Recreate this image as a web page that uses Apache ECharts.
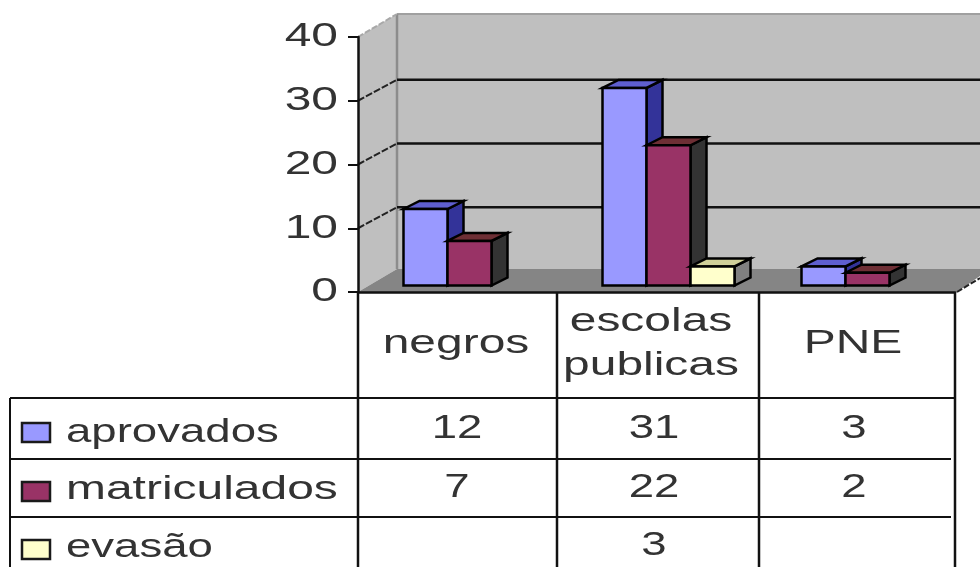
<!DOCTYPE html>
<html><head><meta charset="utf-8">
<style>html,body{margin:0;padding:0;background:#fff}#chart{width:980px;height:567px;filter:blur(0.6px)}</style>
<script src="https://cdn.jsdelivr.net/npm/echarts@6/dist/echarts.min.js"></script>
</head><body><div id="chart"></div>
<script>
const categories = ['negros', 'escolas publicas', 'PNE'];
const categoryLines = [['negros'], ['escolas', 'publicas'], ['PNE']];
const tickValues = [0, 10, 20, 30, 40];
const seriesNames = ['aprovados', 'matriculados', 'evasão'];
const aprovados = [12, 31, 3];
const matriculados = [7, 22, 2];
const evasao = [null, 3, null];
const seriesValues = [aprovados, matriculados, evasao];

const palette = [
  {front: '#9999ff', top: '#5f5fcf', side: '#333399'},
  {front: '#993366', top: '#6e2f35', side: '#333333'},
  {front: '#ffffcc', top: '#cfcf99', side: '#808080'}
];
const DX = 39, DY = 23, GRID_DY = 21; // wall depth
const BDX = 16, BDY = 8, LIFT = 6.5;  // bar depth and floor inset
const SLOT = 44;
const FONT = 'Liberation Sans';
const SX = 1.34, FS = 34, INK = '#333333';
const WIDE = 1.41;
const colX = [358, 557, 759, 955];
const rowY = [292, 398, 459, 517, 567];
const TABLE_LEFT = 10;
const seriesBaseline = [445, 502, 560];
const valueBaseline = [441, 500, 558];
const swatchY = [423, 482, 540];
const colCenter = [457, 654, 854];

function label(text, x, baseline, align, sx) {
  return {type: 'text', x: x, y: baseline - 12, scaleX: sx || SX,
    style: {text: text, fontFamily: FONT, fontSize: FS, fill: INK,
            textAlign: align || 'center', textVerticalAlign: 'middle'}};
}
function line(x1, y1, x2, y2, color, w, dash) {
  return {type: 'line', shape: {x1, y1, x2, y2},
    style: {stroke: color, lineWidth: w, lineDash: dash || null}};
}
function poly(points, fill, stroke, w) {
  return {type: 'polygon', shape: {points},
    style: {fill, stroke: stroke || null, lineWidth: w || 0, lineJoin: 'miter'}};
}

function renderWalls(params, api) {
  if (params.dataIndex !== 0) return;
  const x0 = api.coord([0, 0])[0] - api.size([1, 0])[0] / 2;
  const y = v => api.coord([0, v])[1];
  const W = 980;
  const kids = [];
  kids.push(poly([[x0, y(40)], [x0 + DX, y(40) - DY], [W, y(40) - DY], [W, y(0) - DY], [x0 + DX, y(0) - DY], [x0, y(0)]], '#bfbfbf'));
  kids.push(poly([[x0, y(0)], [x0 + DX, y(0) - DY], [W, y(0) - DY], [W, y(0) - 16], [957, y(0)]], '#858585'));
  kids.push(line(x0 + DX, y(40) - DY, W, y(40) - DY, '#a0a0a0', 2));
  kids.push(line(x0 + DX, y(40) - DY, x0 + DX, y(0) - DY, '#8c8c8c', 2.5));
  kids.push(line(x0, y(40), x0 + DX, y(40) - DY, '#a8a8a8', 2, [6, 2]));
  kids.push(line(957, y(0), W, y(0) - 14, '#222', 2, [6, 2]));
  tickValues.filter(v => v > 0 && v < 40).forEach(v => {
    kids.push(line(x0 + DX, y(v) - GRID_DY, W, y(v) - GRID_DY, '#111', 2.5));
    kids.push(line(x0, y(v), x0 + DX, y(v) - GRID_DY, '#222', 2, [7, 2]));
  });
  return {type: 'group', children: kids};
}

function renderBar(si) {
  return function (params, api) {
    const cat = api.value(0), v = api.value(1);
    const c = palette[si];
    const l = api.coord([cat, 0])[0] + (si - 1.5) * SLOT + 12;
    const r = l + SLOT;
    const b = api.coord([cat, 0])[1] - LIFT;
    const t = api.coord([cat, v])[1] - LIFT;
    return {type: 'group', children: [
      poly([[r, t], [r + BDX, t - BDY], [r + BDX, b - BDY], [r, b]], c.side, '#000', 2.5),
      poly([[l, t], [l + BDX, t - BDY], [r + BDX, t - BDY], [r, t]], c.top, '#000', 2.5),
      poly([[l, t], [r, t], [r, b], [l, b]], c.front, '#000', 2.5)
    ]};
  };
}

function renderTable(params, api) {
  if (params.dataIndex !== 0) return;
  const kids = [];
  colX.forEach(x => kids.push(line(x, rowY[0], x, x === colX[3] ? rowY[3] + 50 : rowY[4], '#111', 2.5)));
  kids.push(line(TABLE_LEFT, rowY[1], TABLE_LEFT, rowY[4], '#111', 2));
  kids.push(line(TABLE_LEFT, rowY[1], colX[3], rowY[1], '#111', 2));
  kids.push(line(TABLE_LEFT, rowY[2], colX[3] - 4, rowY[2], '#111', 2));
  kids.push(line(TABLE_LEFT, rowY[3], colX[3] - 4, rowY[3], '#111', 2));
  categoryLines.forEach((ls, i) => {
    if (ls.length === 1) kids.push(label(ls[0], colCenter[i] - 1, 356, 'center', WIDE));
    else ls.forEach((t, j) => kids.push(label(t, colCenter[i] - 3, 334 + j * 44, 'center', WIDE)));
  });
  seriesNames.forEach((name, s) => {
    kids.push({type: 'rect', shape: {x: 22, y: swatchY[s], width: 28, height: 19},
      style: {fill: palette[s].front, stroke: '#1a1a1a', lineWidth: 2.5}});
    kids.push(label(name, 66, seriesBaseline[s], 'left', s === 1 ? WIDE : SX));
    seriesValues[s].forEach((v, i) => {
      if (v !== null) kids.push(label(String(v), colCenter[i], valueBaseline[s]));
    });
  });
  tickValues.forEach(v => {
    kids.push(label(String(v), 338, api.coord([0, v])[1] + 12, 'right', WIDE));
  });
  return {type: 'group', children: kids};
}

const barSeries = seriesNames.map((name, si) => ({
  name, type: 'custom', coordinateSystem: 'cartesian2d', z: 3 + si, silent: true,
  renderItem: renderBar(si), clip: false,
  encode: {x: 0, y: 1},
  data: seriesValues[si].map((v, i) => v === null ? null : [i, v]).filter(Boolean)
}));

const chart = echarts.init(document.getElementById('chart'), null, {renderer: 'canvas'});
chart.setOption({
  animation: false,
  backgroundColor: '#ffffff',
  grid: {left: 358, top: 37, width: 597, height: 255, containLabel: false},
  xAxis: {type: 'category', data: categories, z: 8,
    axisLine: {show: true, onZero: false, lineStyle: {color: '#111', width: 2.5}},
    axisTick: {show: false}, axisLabel: {show: false}, splitLine: {show: false}},
  yAxis: {type: 'value', min: 0, max: 40, interval: 10, z: 8,
    axisLine: {show: true, lineStyle: {color: '#111', width: 2.5}},
    axisTick: {show: true, length: 10, lineStyle: {color: '#111', width: 2}},
    axisLabel: {show: false}, splitLine: {show: false}},
  series: [
    {type: 'custom', z: 1, silent: true, clip: false, renderItem: renderWalls, data: [[0, 0]], encode: {x: 0, y: 1}},
    ...barSeries,
    {type: 'custom', z: 9, silent: true, clip: false, renderItem: renderTable, data: [[0, 0]], encode: {x: 0, y: 1}}
  ]
});
</script></body></html>
